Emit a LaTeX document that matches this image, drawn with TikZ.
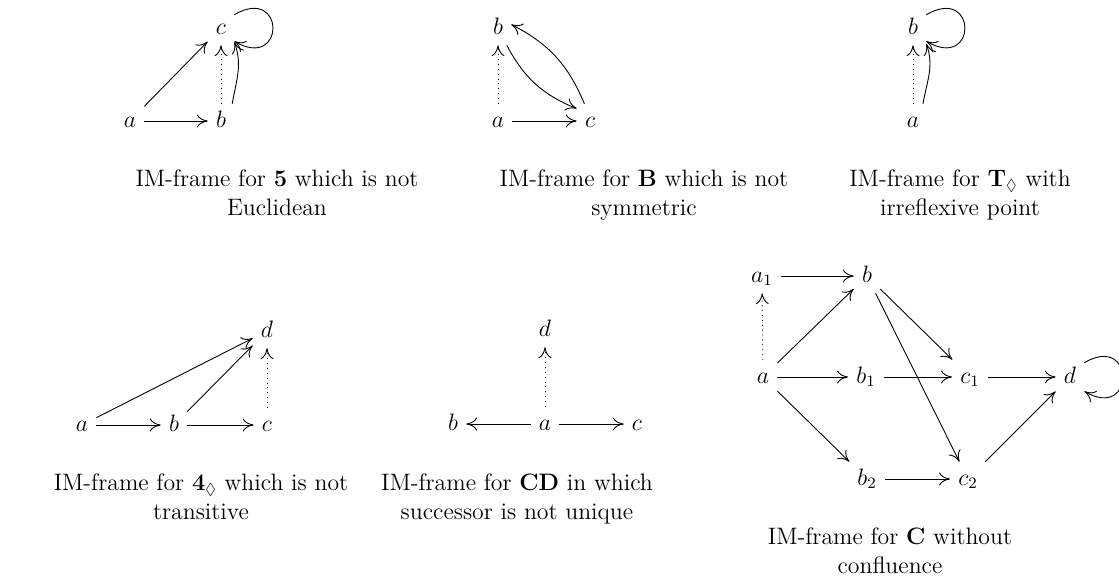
\documentclass[tikz,border=0pt,12pt]{standalone}
\usepackage{amssymb}
\usetikzlibrary{arrows.meta}
\tikzset{
  obj/.style={inner sep=4pt, text height=1.5ex, text depth=0.25ex},
  arr/.style={-{Computer Modern Rightarrow[length=5.5pt,width=6.5pt]}, line width=0.45pt},
  darr/.style={arr, dotted},
  capt/.style={align=center, inner sep=0pt, anchor=north},
  selfloop/.style={out=30, in=-30, distance=30pt},
}

\begin{document}
\begin{tikzpicture}[x=0.505pt, y=0.505pt]
  \useasboundingbox (0,0) rectangle (1119,-582);

  % 5: not Euclidean
  \node[obj] (ea) at (130,-121) {$a$};
  \node[obj] (eb) at (221,-121) {$b$};
  \node[obj] (ec) at (221,-28) {$c$};
  \draw[arr] (ea) -- (eb);
  \draw[arr] (ea) -- (ec);
  \draw[darr] (eb) -- (ec);
  \draw[arr] (eb.57) to[out=80, in=-70] (ec.-47);
  \draw[arr] (ec.45) to[selfloop] (ec.-45);
  \node[capt] (cap5) at (277,-169.5) {IM-frame for \textbf{5} which is not\\Euclidean};

  % B: not symmetric
  \node[obj] (sb) at (498,-28) {$b$};
  \node[obj] (sa) at (498,-121) {$a$};
  \node[obj] (sc) at (590,-121) {$c$};
  \draw[darr] (sa) -- (sb);
  \draw[arr] (sa) -- (sc);
  \draw[arr] (sb.-63) to[bend right=20] (sc.137);
  \draw[arr] (sc.108) to[bend right=20] (sb.15);
  \node[capt] (capB) at (644,-169.5) {IM-frame for \textbf{B} which is not\\symmetric};

  % T: irreflexive point
  \node[obj] (rb) at (913,-28) {$b$};
  \node[obj] (ra) at (913,-121) {$a$};
  \draw[darr] (ra) -- (rb);
  \draw[arr] (ra.60) to[out=80, in=-70] (rb.-50);
  \draw[arr] (rb.45) to[selfloop] (rb.-45);
  \node[capt] (capT) at (960,-169.5) {IM-frame for $\mathbf{T}_\Diamond$ with\\irreflexive point};

  % 4: not transitive
  \node[obj] (ta) at (82,-425) {$a$};
  \node[obj] (tb) at (174,-425) {$b$};
  \node[obj] (tc) at (267,-425) {$c$};
  \node[obj] (td) at (267,-331) {$d$};
  \draw[arr] (ta) -- (tb);
  \draw[arr] (tb) -- (tc);
  \draw[arr] (ta) -- (td);
  \draw[arr] (tb) -- (td);
  \draw[darr] (tc) -- (td);
  \node[capt] (cap4) at (201,-473.5) {IM-frame for $\mathbf{4}_\Diamond$ which is not\\transitive};

  % CD: successor not unique
  \node[obj] (ud) at (545,-330) {$d$};
  \node[obj] (ub) at (453,-424) {$b$};
  \node[obj] (ua) at (545,-424) {$a$};
  \node[obj] (uc) at (637,-424) {$c$};
  \draw[arr] (ua) -- (ub);
  \draw[arr] (ua) -- (uc);
  \draw[darr] (ua) -- (ud);
  \node[capt] (capCD) at (517,-473.5) {IM-frame for \textbf{CD} in which\\successor is not unique};

  % C: no confluence
  \node[obj] (ca1) at (762,-276) {$a_1$};
  \node[obj] (cb) at (867,-276) {$b$};
  \node[obj] (ca) at (763,-377) {$a$};
  \node[obj] (cb1) at (866,-377) {$b_1$};
  \node[obj] (cc1) at (970,-377) {$c_1$};
  \node[obj] (cd) at (1070,-377) {$d$};
  \node[obj] (cb2) at (867,-479) {$b_2$};
  \node[obj] (cc2) at (968,-479) {$c_2$};
  \draw[arr] (ca1) -- (cb);
  \draw[darr] (ca) -- (ca1);
  \draw[arr] (ca) -- (cb);
  \draw[arr] (ca) -- (cb1);
  \draw[arr] (ca) -- (cb2);
  \draw[arr] (cb) -- (cc1);
  \draw[arr] (cb) -- (cc2);
  \draw[arr] (cb1) -- (cc1);
  \draw[arr] (cc1) -- (cd);
  \draw[arr] (cb2) -- (cc2);
  \draw[arr] (cc2) -- (cd);
  \draw[arr] (cd.45) to[selfloop] (cd.-45);
  \node[capt] (capC) at (890,-527.5) {IM-frame for \textbf{C} without\\confluence};
\end{tikzpicture}
\end{document}
